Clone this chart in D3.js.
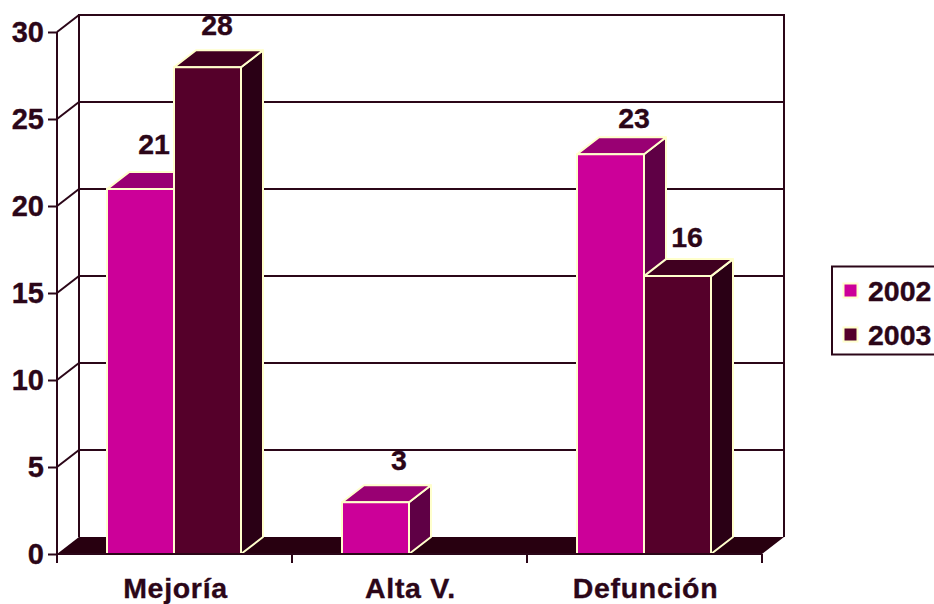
<!DOCTYPE html>
<html>
<head>
<meta charset="utf-8">
<script src="https://cdn.jsdelivr.net/npm/d3@7/dist/d3.min.js"></script>
<style>
html, body { margin: 0; padding: 0; background: #fff; overflow: hidden; }
svg { display: block; }
text { font-family: "Liberation Sans", Arial, sans-serif; font-weight: 700; fill: #2b0618; stroke: #2b0618; stroke-width: 0.35px; }
</style>
</head>
<body>
<svg id="chart" width="934" height="604"></svg>
<script>
// Outcome counts per year
const categories = ["Mejoría", "Alta V.", "Defunción"];
const seriesNames = ["2002", "2003"];
const values2002 = [21, 3, 23];
const values2003 = [28, null, 16];
const yTicks = [0, 5, 10, 15, 20, 25, 30];

const ink = "#2b0618";
const outline = "#ffffcc";
const palette = {
  "2002": { front: "#cc0099", top: "#990073", side: "#5f0045" },
  "2003": { front: "#55002a", top: "#400020", side: "#2a0015" }
};

// Projection depth of the 3D box
const depthX = 22, depthY = -17;
const plot = { left: 57, right: 762, top: 32, bottom: 554 };

const x = d3.scaleBand().domain(categories).range([plot.left, plot.right]);
const y = d3.scaleLinear().domain([0, 30]).range([plot.bottom, plot.top]);
const barW = 67;
const inner = d3.scaleOrdinal().domain(seriesNames).range([-barW, 0]);

// Hand placement of the value labels relative to each bar's top centre
const labelNudge = {
  "2002": [[13, -45], [23, -42], [23, -36]],
  "2003": [[9, -42], [0, 0], [9, -39]]
};

const svg = d3.select("#chart");
const poly = pts => pts.map(p => p.join(",")).join(" ");

// Floor
svg.append("polygon")
  .attr("points", poly([[plot.left, plot.bottom], [plot.left + depthX, plot.bottom + depthY],
    [plot.right + depthX, plot.bottom + depthY], [plot.right, plot.bottom]]))
  .attr("fill", "#280010");

// Back wall frame and horizontal gridlines with their side-wall diagonals
const wall = svg.append("g").attr("stroke", ink).attr("stroke-width", 2).attr("fill", "none");
wall.append("polyline")
  .attr("points", poly([[plot.left + depthX, plot.bottom + depthY], [plot.left + depthX, y(30) + depthY],
    [plot.right + depthX, y(30) + depthY], [plot.right + depthX, plot.bottom + depthY]]));
wall.selectAll("line.grid").data(yTicks.filter(t => t > 0 && t < 30)).join("line")
  .attr("class", "grid")
  .attr("x1", plot.left + depthX).attr("x2", plot.right + depthX)
  .attr("y1", d => y(d) + depthY).attr("y2", d => y(d) + depthY);
wall.selectAll("line.diag").data(yTicks.filter(t => t > 0)).join("line")
  .attr("class", "diag")
  .attr("x1", plot.left).attr("x2", plot.left + depthX)
  .attr("y1", d => y(d)).attr("y2", d => y(d) + depthY);

// Value axis
const yAxis = svg.append("g")
  .attr("transform", `translate(${plot.left},0)`)
  .call(d3.axisLeft(y).tickValues(yTicks).tickSize(9).tickPadding(4));
yAxis.selectAll("path").remove();
yAxis.selectAll("line").attr("stroke", ink).attr("stroke-width", 2);
yAxis.selectAll("text").attr("fill", ink).attr("dy", "0.33em").style("font-size", "29px");
yAxis.attr("font-family", null).attr("font-size", null);

// Bars, one 3D box per value; later series overlap earlier ones
const series = [
  { name: "2002", values: values2002 },
  { name: "2003", values: values2003 }
];
const bars = svg.append("g").attr("stroke", outline).attr("stroke-width", 2).attr("stroke-linejoin", "round");
categories.forEach((cat, i) => {
  series.forEach(s => {
    const v = s.values[i];
    if (v == null) return;
    const c = palette[s.name];
    const x0 = x(cat) + x.bandwidth() / 2 + inner(s.name) - 0.5;
    const x1 = x0 + barW;
    const yT = y(v) + 0.5, yB = y(0);
    bars.append("polygon").attr("fill", c.side)
      .attr("points", poly([[x1, yT], [x1 + depthX, yT + depthY], [x1 + depthX, yB + depthY], [x1, yB]]));
    bars.append("polygon").attr("fill", c.top)
      .attr("points", poly([[x0, yT], [x0 + depthX, yT + depthY], [x1 + depthX, yT + depthY], [x1, yT]]));
    bars.append("rect").attr("fill", c.front)
      .attr("x", x0).attr("y", yT).attr("width", barW).attr("height", yB - yT);
  });
});

// Category axis: line and ticks at band edges, labels under band centres
const base = svg.append("g").attr("stroke", ink).attr("stroke-width", 2);
base.append("line").attr("x1", plot.left).attr("x2", plot.right).attr("y1", plot.bottom).attr("y2", plot.bottom);
base.append("line").attr("x1", plot.left).attr("x2", plot.left).attr("y1", plot.top).attr("y2", plot.bottom + 9);
base.selectAll("line.tick").data(categories.map(c => x(c)).concat(plot.right)).join("line")
  .attr("class", "tick")
  .attr("x1", d => d).attr("x2", d => d)
  .attr("y1", plot.bottom).attr("y2", plot.bottom + 9);

const xAxis = svg.append("g")
  .attr("transform", `translate(1,${plot.bottom})`)
  .call(d3.axisBottom(x).tickSize(0).tickPadding(24));
xAxis.select("path").remove();
xAxis.attr("font-family", null).attr("font-size", null);
xAxis.selectAll("text").attr("fill", ink).style("font-size", "28.5px").style("letter-spacing", "0.7px");

// Value labels
series.forEach(s => {
  svg.append("g").selectAll("text")
    .data(s.values.map((v, i) => ({ v, i })).filter(d => d.v != null))
    .join("text")
    .attr("text-anchor", "middle")
    .attr("dominant-baseline", "central")
    .style("font-size", "28.5px")
    .attr("x", d => x(categories[d.i]) + x.bandwidth() / 2 + inner(s.name) + barW / 2 + labelNudge[s.name][d.i][0])
    .attr("y", d => y(d.v) + labelNudge[s.name][d.i][1])
    .text(d => d.v);
});

// Legend, running off the right edge of the page
const legend = svg.append("g");
legend.append("rect").attr("x", 832).attr("y", 266.5).attr("width", 120).attr("height", 88)
  .attr("fill", "#fff").attr("stroke", ink).attr("stroke-width", 2);
const legendY = d3.scalePoint().domain(seriesNames).range([290.5, 334.5]);
seriesNames.forEach(name => {
  legend.append("rect").attr("x", 843.5).attr("y", legendY(name) - 7).attr("width", 14).attr("height", 14)
    .attr("fill", palette[name].front).attr("stroke", outline).attr("stroke-width", 2);
  legend.append("text").attr("x", 868).attr("y", legendY(name) + 10.5).style("font-size", "28.5px").text(name);
});
</script>
</body>
</html>
